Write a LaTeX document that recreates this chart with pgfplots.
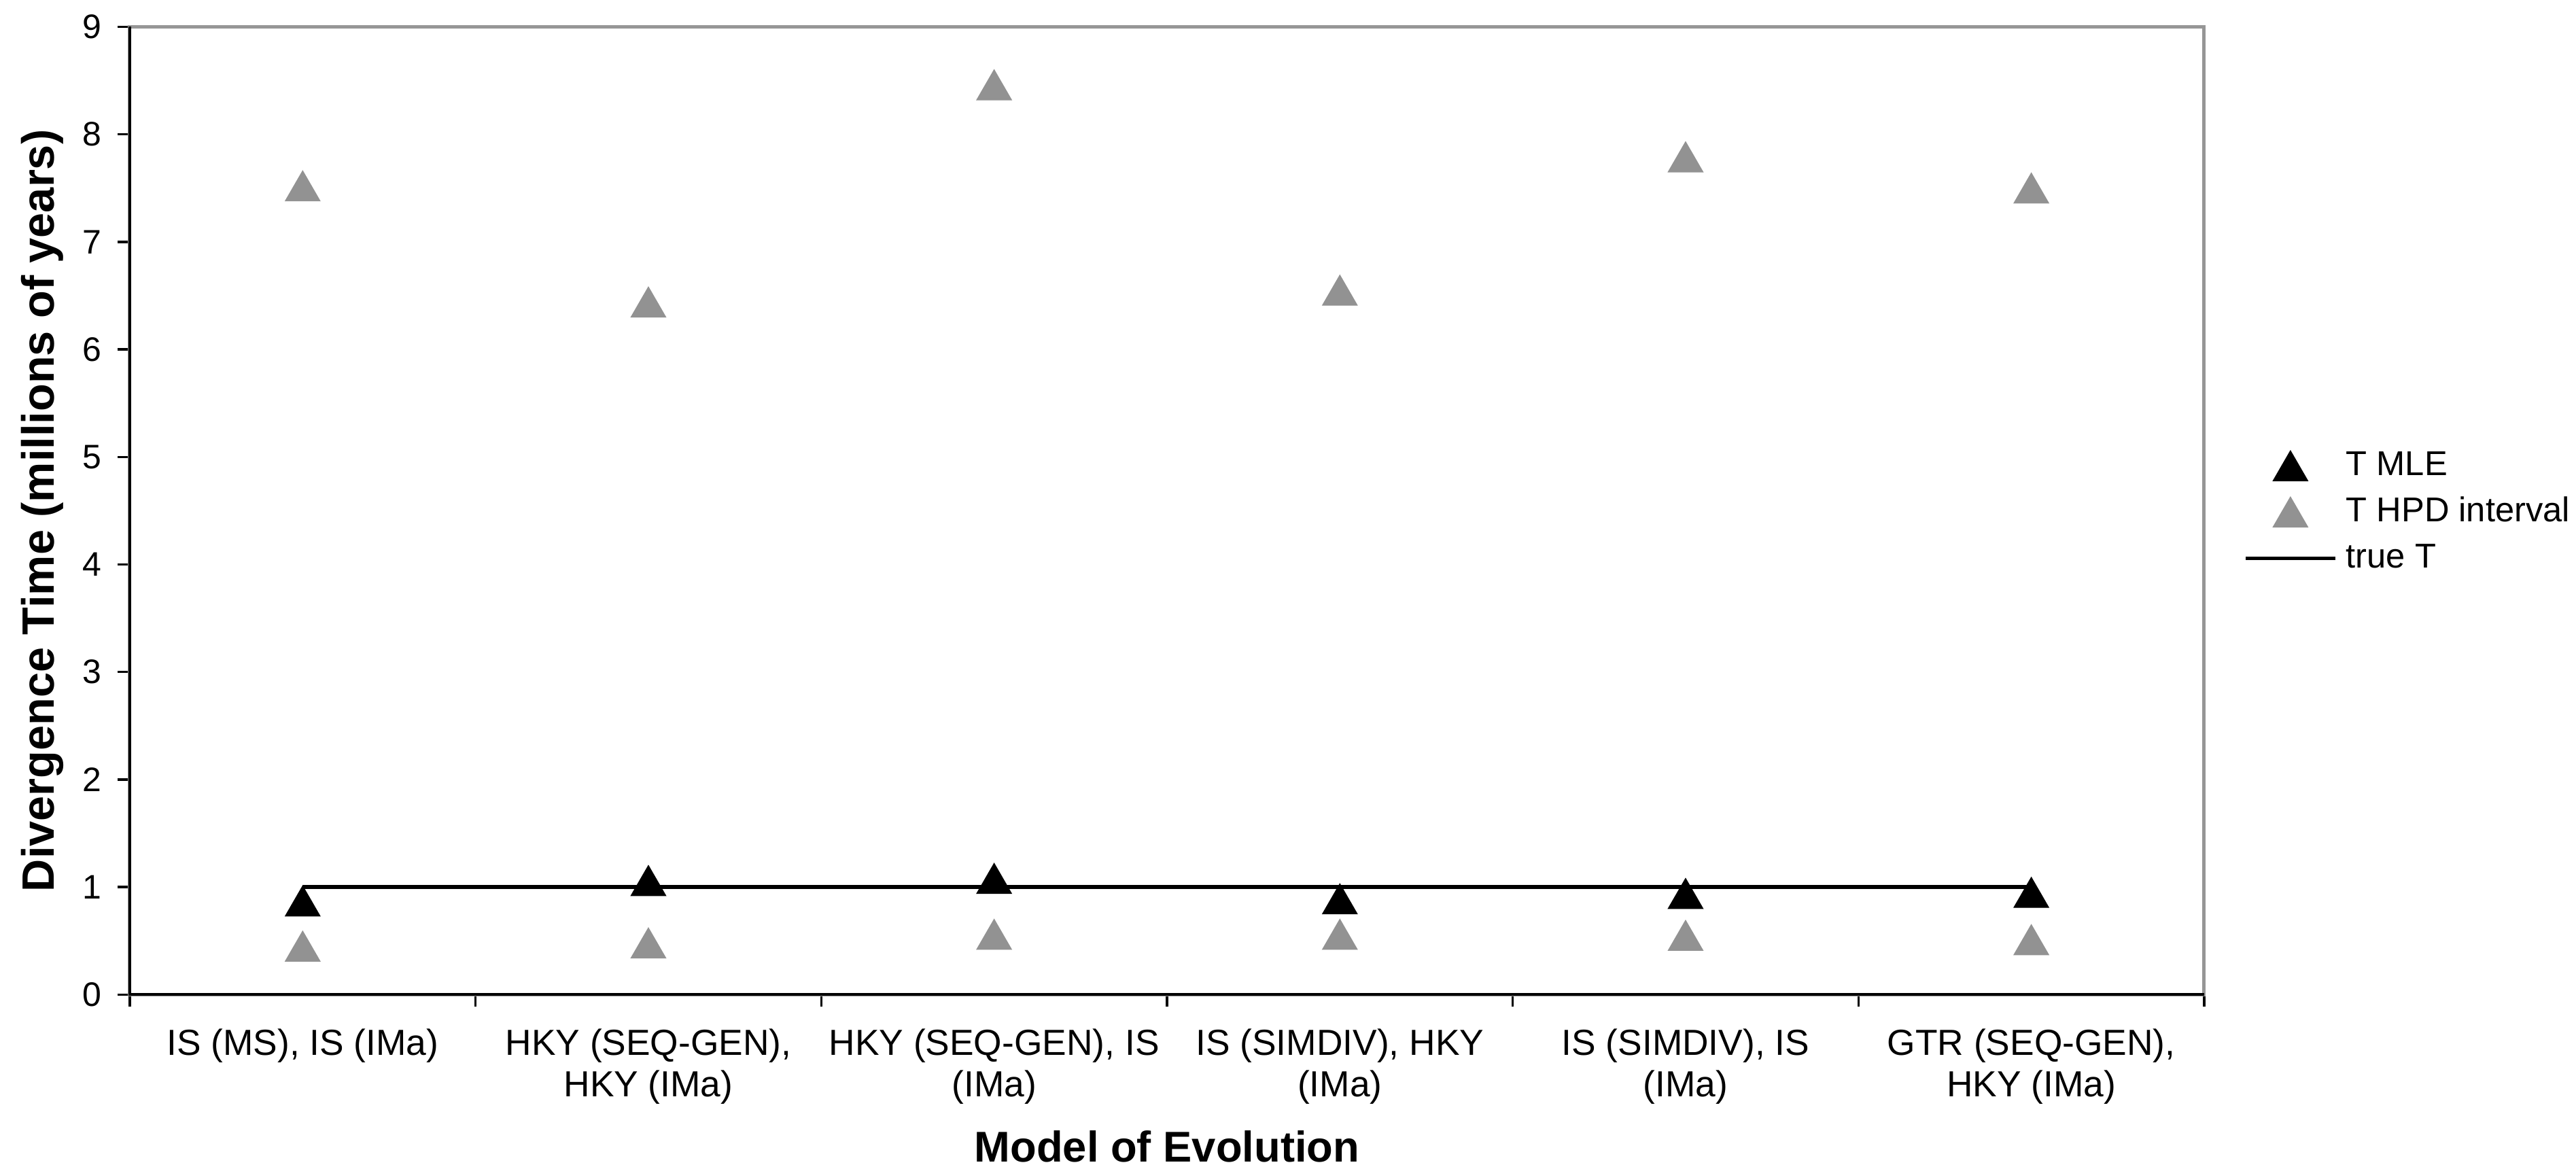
\documentclass[border=0pt]{standalone}
\usepackage{fontspec}
\setmainfont{Liberation Sans}
\usepackage{pgfplots}
\usepackage{pgfplotstable}
\pgfplotsset{compat=1.18}

\definecolor{hpdgray}{RGB}{146,146,146}
\definecolor{framegray}{RGB}{150,150,150}

\pgfplotsset{
  markleg/.style={legend image code/.code={\draw[mark repeat=2,mark phase=2,##1] plot coordinates {(0pt,0pt) (9.85pt,0pt) (19.7pt,0pt)};}},
  lineleg/.style={legend image code/.code={\draw[##1] (0pt,0pt) -- (19.7pt,0pt);}},
}

% divergence time estimates per model pairing (millions of years)
\pgfplotstableread{
x  mle   hpdlo  hpdhi  truet
0  0.87  0.45   7.52   1
1  1.06  0.48   6.44   1
2  1.08  0.56   8.46   1
3  0.89  0.56   6.55   1
4  0.94  0.55   7.79   1
5  0.95  0.51   7.50   1
}\divdata

\begin{document}
\begin{tikzpicture}
\path[use as bounding box] (-28.65pt,-38pt) rectangle (539.85pt,219.5pt);
\begin{axis}[
  at={(0pt,0pt)}, anchor=south west,
  scale only axis, width=457.8pt, height=213.6pt,
  xmin=-0.5, xmax=5.5, ymin=0, ymax=9,
  ytick={0,1,2,3,4,5,6,7,8,9},
  xtick={-0.5,0.5,1.5,2.5,3.5,4.5,5.5},
  xticklabels={},
  extra x ticks={0,1,2,3,4,5},
  extra x tick labels={{IS (MS), IS (IMa)},{HKY (SEQ-GEN),\\HKY (IMa)},{HKY (SEQ-GEN), IS\\(IMa)},{IS (SIMDIV), HKY\\(IMa)},{IS (SIMDIV), IS\\(IMa)},{GTR (SEQ-GEN),\\HKY (IMa)}},
  extra x tick style={major tick length=0pt},
  tick align=outside,
  xtick pos=bottom, ytick pos=left,
  major tick length=2.7pt,
  tick style={black, line width=0.5pt},
  axis line style={framegray, line width=0.75pt},
  /pgf/number format/assume math mode=true,
  yticklabel style={font=\fontsize{7.5}{9}\selectfont},
  xticklabel style={font=\fontsize{8}{9.25}\selectfont, align=center, anchor=north, yshift=-4pt},
  every axis y label/.style={at={(axis description cs:-0.0364,0.5)}, rotate=90, anchor=base},
  every axis x label/.style={at={(axis description cs:0.5,-0.1732)}, anchor=base},
  ylabel={\fontsize{10}{12}\selectfont\bfseries Divergence Time (millions of years)},
  xlabel={\fontsize{9.5}{11}\selectfont\bfseries Model of Evolution},
  legend style={at={(axis description cs:1.0187,0.4986)}, anchor=west,
    draw=none, fill=none, inner sep=0pt,
    font=\fontsize{7.6}{9.2}\selectfont,
    nodes={inner xsep=2pt, inner ysep=0pt, text height=5.5pt, text depth=1.4pt},
    row sep=3.3pt},
  legend cell align=left,
  clip=false,
]
\addplot[only marks, mark=triangle*, mark size=4.4pt,
  mark options={fill=black, draw=black, line width=0.2pt, yshift=-1.1pt}, markleg]
  table[x=x, y=mle] {\divdata};
\addlegendentry{T MLE}
\addplot[only marks, mark=triangle*, mark size=4.4pt,
  mark options={fill=hpdgray, draw=hpdgray, line width=0.2pt, yshift=-1.1pt}, markleg]
  table[x=x, y=hpdlo] {\divdata};
\addlegendentry{T HPD interval}
\addplot[only marks, mark=triangle*, mark size=4.4pt,
  mark options={fill=hpdgray, draw=hpdgray, line width=0.2pt, yshift=-1.1pt},
  forget plot]
  table[x=x, y=hpdhi] {\divdata};
\addplot[black, line width=0.85pt, mark=none, lineleg]
  table[x=x, y=truet] {\divdata};
\addlegendentry{true T}
% black value axes over the grey plot-area frame
\draw[black, line width=0.6pt] (rel axis cs:0,1) -- (rel axis cs:0,0) -- (rel axis cs:1,0);
\end{axis}
\end{tikzpicture}
\end{document}
